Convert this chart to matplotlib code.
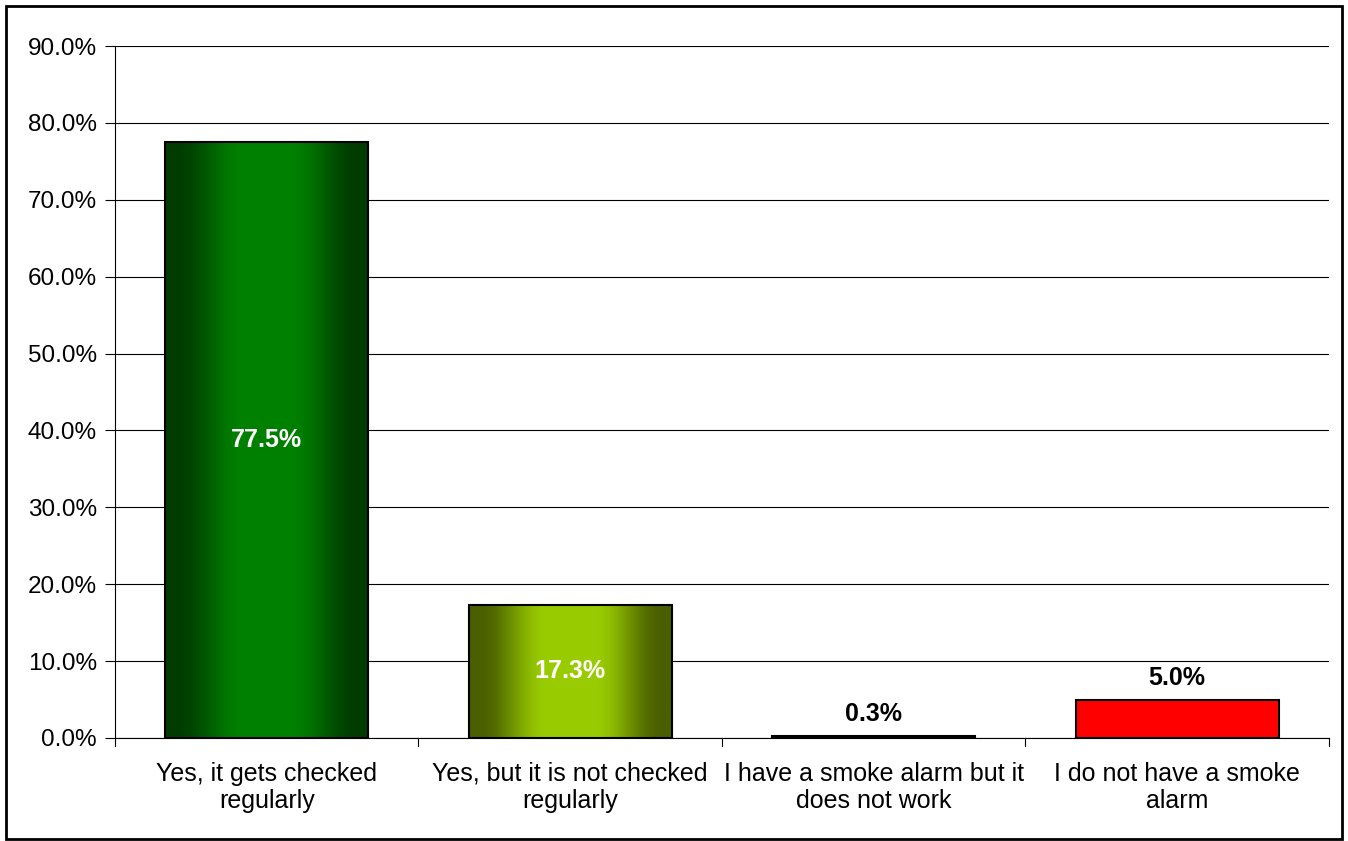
import numpy as np
import matplotlib.pyplot as plt
from matplotlib.colors import LinearSegmentedColormap
from matplotlib.patches import Rectangle

categorias = ["Yes, it gets checked\nregularly",
              "Yes, but it is not checked\nregularly",
              "I have a smoke alarm but it\ndoes not work",
              "I do not have a smoke\nalarm"]
valores = [77.5, 17.3, 0.3, 5.0]
etiquetas = ["77.5%", "17.3%", "0.3%", "5.0%"]

# colores del degradado: borde, centro
degradados = [("#003c00", "#008000"),
              ("#4a5f00", "#99cc00"),
              ("#000000", "#000000"),
              ("#ff0000", "#ff0000")]

plt.rcParams["font.family"] = ["Liberation Sans", "DejaVu Sans"]

fig = plt.figure(figsize=(13.48, 8.41), dpi=100)
ax = fig.add_axes([0.0853, 0.1225, 0.9006, 0.8228])

x = np.arange(len(valores))
barras = ax.bar(x, valores, width=0.67, color="none", edgecolor="black",
                linewidth=1.5, zorder=3)

# relleno con degradado horizontal recortado a cada barra
t = np.linspace(0, 1, 256)
perfil = np.clip((1 - np.abs(2 * t - 1)) * 1.5 - 0.15, 0, 1)
perfil = perfil * perfil * (3 - 2 * perfil)
for barra, (borde, centro) in zip(barras, degradados):
    cmap = LinearSegmentedColormap.from_list("g", [borde, centro])
    x0, y0 = barra.get_x(), barra.get_y()
    w, h = barra.get_width(), barra.get_height()
    img = ax.imshow(perfil[np.newaxis, :], cmap=cmap, vmin=0, vmax=1,
                    extent=[x0, x0 + w, y0, y0 + h], aspect="auto",
                    zorder=2, interpolation="bilinear")
    img.set_clip_path(barra)

ax.set_xlim(-0.5, len(valores) - 0.5)
ax.set_ylim(0, 90)
ax.set_aspect("auto")

ax.set_yticks(np.arange(0, 91, 10))
ax.set_yticklabels([f"{v:.1f}%" for v in np.arange(0, 91, 10)], fontsize=17.5)
ax.yaxis.grid(True, color="black", linewidth=0.8, zorder=0)
ax.set_axisbelow(True)

ax.set_xticks(x)
ax.set_xticklabels(categorias, fontsize=18, linespacing=1.2)
ax.tick_params(axis="x", length=0, pad=17)
ax.tick_params(axis="y", length=7, width=0.8, pad=6)
# marcas de separacion entre categorias
for borde_x in np.arange(-0.5, len(valores), 1.0):
    ax.plot([borde_x, borde_x], [0, -1.0], color="black", lw=0.8,
            clip_on=False)

for lado in ["top", "right"]:
    ax.spines[lado].set_visible(False)
ax.spines["left"].set_linewidth(0.8)
ax.spines["bottom"].set_linewidth(0.8)

for i, (v, txt) in enumerate(zip(valores, etiquetas)):
    if v > 10:
        ax.text(i, v / 2, txt, ha="center", va="center", color="white",
                fontsize=18, fontweight="bold", zorder=5)
    else:
        ax.text(i, v + 1.3, txt, ha="center", va="bottom", color="black",
                fontsize=18, fontweight="bold", zorder=5,
                bbox=dict(facecolor="white", edgecolor="none", pad=2))

fig.patches.append(Rectangle((6 / 1348, 2 / 841), 1336 / 1348, 833 / 841,
                             transform=fig.transFigure, fill=False,
                             edgecolor="black", linewidth=2))

plt.savefig("out.png", dpi=100)
